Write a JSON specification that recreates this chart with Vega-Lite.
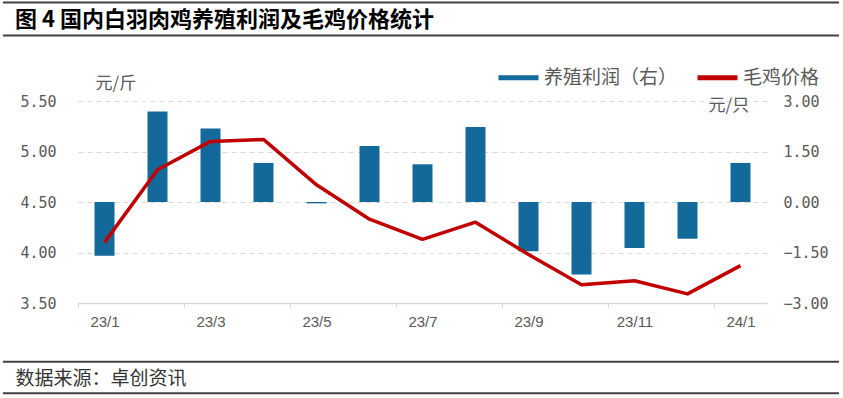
{
  "$schema": "https://vega.github.io/schema/vega-lite/v6.json",
  "width": 689,
  "height": 202,
  "autosize": {"type": "none"},
  "padding": {"left": 78, "top": 101, "right": 76, "bottom": 95},
  "background": "white",
  "config": {"view": {"stroke": null}},
  "title": {
    "text": "图 4 国内白羽肉鸡养殖利润及毛鸡价格统计",
    "anchor": "start",
    "frame": "group",
    "dx": -63,
    "offset": -40.5,
    "baseline": "middle",
    "font": "Noto Sans CJK SC",
    "fontSize": 22,
    "fontWeight": "bold",
    "color": "#000000"
  },
  "datasets": {
    "frame": [
      {"y": 6.475, "x1": -0.109, "x2": 1.1045},
      {"y": 6.149, "x1": -0.109, "x2": 1.1045},
      {"y": 2.919, "x1": -0.109, "x2": 1.1045},
      {"y": 2.606, "x1": -0.109, "x2": 1.1045}
    ]
  },
  "data": {
    "values": [
      {"month": "23/1", "price": 4.10, "profit": -1.60, "s1": "养殖利润（右）", "s2": "毛鸡价格"},
      {"month": "23/2", "price": 4.82, "profit": 2.69, "s1": "养殖利润（右）", "s2": "毛鸡价格"},
      {"month": "23/3", "price": 5.10, "profit": 2.18, "s1": "养殖利润（右）", "s2": "毛鸡价格"},
      {"month": "23/4", "price": 5.12, "profit": 1.16, "s1": "养殖利润（右）", "s2": "毛鸡价格"},
      {"month": "23/5", "price": 4.67, "profit": -0.04, "s1": "养殖利润（右）", "s2": "毛鸡价格"},
      {"month": "23/6", "price": 4.33, "profit": 1.66, "s1": "养殖利润（右）", "s2": "毛鸡价格"},
      {"month": "23/7", "price": 4.13, "profit": 1.12, "s1": "养殖利润（右）", "s2": "毛鸡价格"},
      {"month": "23/8", "price": 4.30, "profit": 2.23, "s1": "养殖利润（右）", "s2": "毛鸡价格"},
      {"month": "23/9", "price": 3.98, "profit": -1.46, "s1": "养殖利润（右）", "s2": "毛鸡价格"},
      {"month": "23/10", "price": 3.68, "profit": -2.15, "s1": "养殖利润（右）", "s2": "毛鸡价格"},
      {"month": "23/11", "price": 3.72, "profit": -1.37, "s1": "养殖利润（右）", "s2": "毛鸡价格"},
      {"month": "23/12", "price": 3.59, "profit": -1.09, "s1": "养殖利润（右）", "s2": "毛鸡价格"},
      {"month": "24/1", "price": 3.87, "profit": 1.16, "s1": "养殖利润（右）", "s2": "毛鸡价格"}
    ]
  },
  "layer": [
    {
      "mark": {"type": "bar", "width": 20, "color": "#14699b"},
      "encoding": {
        "x": {
          "field": "month", "type": "ordinal", "sort": null,
          "scale": {"paddingInner": 0, "paddingOuter": 0},
          "axis": {
            "values": ["23/1", "23/3", "23/5", "23/7", "23/9", "23/11", "24/1"],
            "labelAngle": 0,
            "tickOffset": -26.5,
            "labelOffset": 26.5,
            "tickSize": 5,
            "tickColor": "#d9d9d9",
            "domainColor": "#d9d9d9",
            "domainWidth": 1.5,
            "labelFont": "Liberation Sans",
            "labelFontSize": 15,
            "labelColor": "#595959",
            "labelPadding": 6,
            "title": "数据来源：卓创资讯",
            "titleFont": "Noto Sans CJK SC",
            "titleFontSize": 19,
            "titleFontWeight": "normal",
            "titleColor": "#333333",
            "titleAnchor": "start",
            "titleAlign": "left",
            "titleBaseline": "middle",
            "titleX": -63,
            "titleY": 75
          }
        },
        "y": {
          "field": "profit", "type": "quantitative",
          "scale": {"domain": [-3, 3], "nice": false, "zero": false},
          "axis": {
            "orient": "right",
            "values": [-3, -1.5, 0, 1.5, 3],
            "format": ".2f",
            "grid": false,
            "domain": false,
            "ticks": false,
            "labelFont": "DejaVu Sans Mono",
            "labelFontSize": 15,
            "labelColor": "#595959",
            "labelPadding": 16,
            "title": "元/只",
            "titleAngle": 0,
            "titleFont": "Noto Sans CJK SC",
            "titleFontSize": 17,
            "titleFontWeight": "normal",
            "titleColor": "#595959",
            "titleAlign": "left",
            "titleBaseline": "middle",
            "titleX": -59,
            "titleY": 4
          }
        },
        "color": {
          "field": "s1", "type": "nominal",
          "scale": {"domain": ["养殖利润（右）", "毛鸡价格"], "range": ["#14699b", "#c00000"]},
          "legend": {
            "title": null,
            "orient": "none",
            "direction": "horizontal",
            "legendX": 418,
            "legendY": -46,
            "symbolType": "stroke",
            "symbolSize": 1600,
            "symbolStrokeWidth": 5,
            "labelFont": "Noto Sans CJK SC",
            "labelFontSize": 19,
            "labelColor": "#595959",
            "labelOffset": 3,
            "columnPadding": 9
          }
        }
      }
    },
    {
      "mark": {"type": "line", "strokeWidth": 3.5, "strokeJoin": "round"},
      "encoding": {
        "x": {
          "field": "month", "type": "ordinal", "sort": null,
          "scale": {"paddingInner": 0, "paddingOuter": 0},
          "axis": null
        },
        "y": {
          "field": "price", "type": "quantitative",
          "scale": {"domain": [3.5, 5.5], "nice": false, "zero": false},
          "axis": {
            "orient": "left",
            "values": [3.5, 4, 4.5, 5, 5.5],
            "format": ".2f",
            "grid": true,
            "gridDash": [5, 4],
            "gridColor": "#d9d9d9",
            "domain": false,
            "ticks": false,
            "labelFont": "DejaVu Sans Mono",
            "labelFontSize": 15,
            "labelColor": "#595959",
            "labelPadding": 22,
            "title": "元/斤",
            "titleAngle": 0,
            "titleFont": "Noto Sans CJK SC",
            "titleFontSize": 17,
            "titleFontWeight": "normal",
            "titleColor": "#595959",
            "titleAlign": "left",
            "titleBaseline": "middle",
            "titleX": 17,
            "titleY": -18
          }
        },
        "color": {"field": "s2", "type": "nominal"}
      }
    },
    {
      "data": {"name": "frame"},
      "mark": {"type": "rule", "color": "#404040", "strokeWidth": 2},
      "encoding": {
        "x": {"field": "x1", "type": "quantitative", "scale": {"domain": [0, 1], "nice": false, "zero": false}, "axis": null},
        "x2": {"field": "x2"},
        "y": {"field": "y", "type": "quantitative", "scale": {"domain": [3.5, 5.5], "nice": false, "zero": false}, "axis": null}
      }
    }
  ],
  "resolve": {"scale": {"x": "independent", "y": "independent"}}
}
